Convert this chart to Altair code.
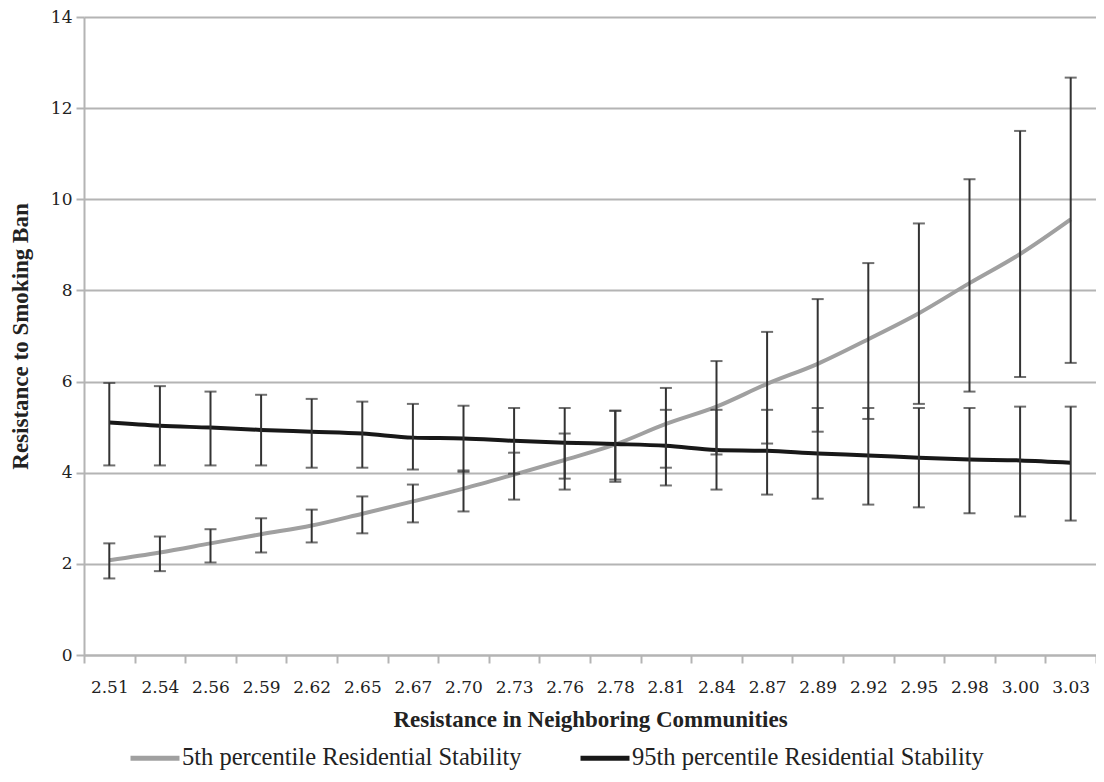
import altair as alt
import pandas as pd

x_labels = ["2.51", "2.54", "2.56", "2.59", "2.62", "2.65", "2.67", "2.70", "2.73", "2.76",
            "2.78", "2.81", "2.84", "2.87", "2.89", "2.92", "2.95", "2.98", "3.00", "3.03"]

series_names = ["5th percentile Residential Stability", "95th percentile Residential Stability"]

p5_mean = [2.08, 2.25, 2.45, 2.65, 2.84, 3.10, 3.37, 3.65, 3.96, 4.28,
           4.62, 5.07, 5.45, 5.95, 6.39, 6.93, 7.50, 8.16, 8.80, 9.56]
p5_low = [1.68, 1.84, 2.03, 2.25, 2.47, 2.67, 2.91, 3.15, 3.41, 3.63,
          3.80, 4.11, 4.40, 4.64, 4.90, 5.18, 5.51, 5.78, 6.10, 6.41]
p5_high = [2.45, 2.60, 2.76, 3.00, 3.19, 3.48, 3.74, 4.05, 4.44, 4.86,
           5.36, 5.86, 6.45, 7.09, 7.81, 8.60, 9.47, 10.44, 11.50, 12.67]

p95_mean = [5.10, 5.03, 4.99, 4.94, 4.90, 4.86, 4.77, 4.75, 4.70, 4.66,
            4.63, 4.59, 4.50, 4.48, 4.42, 4.38, 4.33, 4.29, 4.27, 4.22]
p95_low = [4.16, 4.16, 4.16, 4.16, 4.11, 4.11, 4.07, 4.02, 3.98, 3.87,
           3.85, 3.72, 3.63, 3.52, 3.43, 3.30, 3.24, 3.11, 3.04, 2.95]
p95_high = [5.97, 5.90, 5.78, 5.71, 5.62, 5.56, 5.51, 5.47, 5.42, 5.42,
            5.36, 5.38, 5.38, 5.38, 5.42, 5.42, 5.42, 5.42, 5.45, 5.45]

rows = []
for name, m, lo, hi in [(series_names[0], p5_mean, p5_low, p5_high),
                        (series_names[1], p95_mean, p95_low, p95_high)]:
    for i, lab in enumerate(x_labels):
        rows.append({"x": lab, "series": name, "y": m[i], "lo": lo[i], "hi": hi[i], "order": i})
df = pd.DataFrame(rows)

GRID = "#b4b4b4"
TICKFONT = "DejaVu Serif"
TITLEFONT = "Liberation Serif"

x_enc = alt.X("x:N", sort=x_labels,
              scale=alt.Scale(paddingInner=0, paddingOuter=0),
              axis=alt.Axis(title="Resistance in Neighboring Communities", labelAngle=0,
                            tickBand="extent", grid=False, tickSize=8, labelPadding=16,
                            titlePadding=13))
y_scale = alt.Scale(domain=[0, 14], nice=False)
y_axis = alt.Axis(title="Resistance to Smoking Ban", values=list(range(0, 15, 2)),
                  grid=True, tickSize=8, labelPadding=4, titlePadding=18)

base = alt.Chart(df)

lines = base.mark_line(strokeWidth=4, interpolate="monotone").encode(
    x=x_enc,
    y=alt.Y("y:Q", scale=y_scale, axis=y_axis),
    color=alt.Color("series:N", sort=series_names,
                    scale=alt.Scale(domain=series_names, range=["#a0a0a0", "#181818"]),
                    legend=alt.Legend(title=None, orient="none", direction="horizontal",
                                      legendX=44, legendY=714, symbolType="stroke",
                                      symbolStrokeWidth=5, symbolSize=2400,
                                      labelFont=TITLEFONT, labelFontSize=24.5,
                                      labelColor="#222", labelOffset=0, labelLimit=600,
                                      columnPadding=48, padding=0)),
    order="order:Q",
)

bars = base.mark_rule(color="#333333", strokeWidth=2).encode(
    x=alt.X("x:N", sort=x_labels),
    y=alt.Y("lo:Q", scale=y_scale),
    y2="hi:Q",
)
cap_lo = base.mark_tick(color="#333333", thickness=2, size=12).encode(
    x=alt.X("x:N", sort=x_labels),
    y=alt.Y("lo:Q", scale=y_scale),
)
cap_hi = base.mark_tick(color="#333333", thickness=2, size=12).encode(
    x=alt.X("x:N", sort=x_labels),
    y=alt.Y("hi:Q", scale=y_scale),
)

chart = alt.layer(lines, bars, cap_lo, cap_hi).properties(
    width=1012, height=638,
    autosize=alt.AutoSizeParams(type="none"),
    padding={"left": 76, "top": 9, "right": 0, "bottom": 119},
).configure_view(stroke=None).configure_axis(
    domainColor=GRID, domainWidth=2, tickColor=GRID, tickWidth=2,
    gridColor=GRID, gridWidth=2,
    labelFont=TICKFONT, labelFontSize=17, labelColor="#222",
    titleFont=TITLEFONT, titleFontSize=23, titleFontWeight="bold", titleColor="#222",
).configure_legend(labelFont=TITLEFONT)

chart.save("out.html", embed_options={"renderer": "svg", "actions": False})
